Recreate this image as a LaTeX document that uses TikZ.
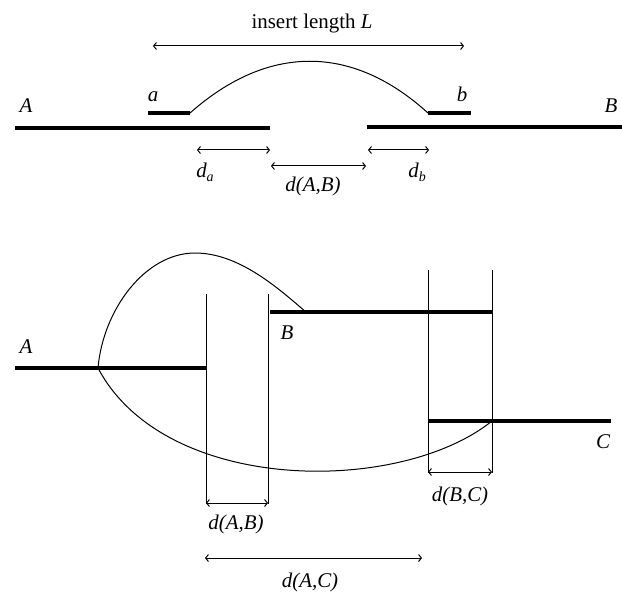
\documentclass[tikz,border=0pt]{standalone}
\usepackage{fontspec}
\setmainfont{Liberation Serif}
\usetikzlibrary{arrows.meta}
\begin{document}
\begin{tikzpicture}[x=1bp,y=-1bp,
  thickseg/.style={line width=3.6bp},
  thinseg/.style={line width=1bp},
  dimarrow/.style={line width=1bp,{Straight Barb[length=2.8bp,width=7bp]}-{Straight Barb[length=2.8bp,width=7bp]}},
  lbl/.style={inner sep=0pt,anchor=base,font=\fontsize{21}{24}\selectfont\itshape},
  txt/.style={inner sep=0pt,anchor=base,font=\fontsize{21}{24}\selectfont}]
\useasboundingbox (0,0) rectangle (622,592);
% ---------- top panel ----------
\node[txt] (title) at (312,29) {insert length \textit{L}};
\coordinate (Ls) at (153,46); \coordinate (Le) at (464,46);
\draw[dimarrow] (Ls) -- (Le);
\coordinate (A1) at (15,128); \coordinate (A2) at (270,128);
\coordinate (B1) at (367,127); \coordinate (B2) at (622,127);
\draw[thickseg] (A1) -- (A2);
\draw[thickseg] (B1) -- (B2);
\coordinate (a1) at (148,113); \coordinate (a2) at (190,113);
\coordinate (b1) at (428,113); \coordinate (b2) at (471,113);
\draw[thickseg] (a1) -- (a2);
\draw[thickseg] (b1) -- (b2);
\draw[thinseg] (a2) .. controls (268,44) and (352,44) .. (b1);
\node[lbl] (la) at (153,102) {a};
\node[lbl] (lb) at (462,102) {b};
\node[lbl] (lA) at (26,113) {A};
\node[lbl] (lB) at (611,113) {B};
\coordinate (da1) at (197,150); \coordinate (da2) at (270,150);
\coordinate (dab1) at (271,166); \coordinate (dab2) at (366,166);
\coordinate (db1) at (368,150); \coordinate (db2) at (429,150);
\draw[dimarrow] (da1) -- (da2);
\draw[dimarrow] (dab1) -- (dab2);
\draw[dimarrow] (db1) -- (db2);
\node[lbl] (lda) at (205,178) {d\raisebox{-0.35ex}{\fontsize{14}{16}\selectfont a}};
\node[lbl] (ldab) at (313,191) {d(A,B)};
\node[lbl] (ldb) at (417,178) {d\raisebox{-0.35ex}{\fontsize{14}{16}\selectfont b}};
% ---------- bottom panel ----------
\coordinate (J) at (98,368);
\coordinate (P1) at (15,368); \coordinate (P2) at (206,368);
\draw[thickseg] (P1) -- (P2);
\coordinate (Q1) at (270,312); \coordinate (Q2) at (493,312);
\draw[thickseg] (Q1) -- (Q2);
\coordinate (R1) at (428,421); \coordinate (R2) at (611,421);
\draw[thickseg] (R1) -- (R2);
\coordinate (Qj) at (306,312);
\coordinate (Rj) at (492,421);
\coordinate (Pk) at (195,253);
% vertical guide lines
\coordinate (v1t) at (206,294); \coordinate (v1b) at (206,504);
\coordinate (v2t) at (268,294); \coordinate (v2b) at (268,504);
\coordinate (v3t) at (428,270); \coordinate (v3b) at (428,473);
\coordinate (v4t) at (492,270); \coordinate (v4b) at (492,473);
\draw[thinseg] (v1t) -- (v1b);
\draw[thinseg] (v2t) -- (v2b);
\draw[thinseg] (v3t) -- (v3b);
\draw[thinseg] (v4t) -- (v4b);
% curves
\draw[thinseg] (J) .. controls (103,310) and (145,253) .. (Pk)
  .. controls (240,253) and (280,290) .. (Qj);
\draw[thinseg] (J) .. controls (165,495) and (400,495) .. (Rj);
% labels
\node[lbl] (mA) at (26,353) {A};
\node[lbl] (mB) at (287,339) {B};
\node[lbl] (mC) at (603,448) {C};
% dimension arrows
\coordinate (e1) at (206,503); \coordinate (e2) at (268,503);
\coordinate (f1) at (428,472); \coordinate (f2) at (492,472);
\coordinate (g1) at (205,558); \coordinate (g2) at (422,558);
\draw[dimarrow] (e1) -- (e2);
\draw[dimarrow] (f1) -- (f2);
\draw[dimarrow] (g1) -- (g2);
\node[lbl] (lAB) at (236,529) {d(A,B)};
\node[lbl] (lBC) at (460,501) {d(B,C)};
\node[lbl] (lAC) at (310,587) {d(A,C)};
\end{tikzpicture}
\end{document}
